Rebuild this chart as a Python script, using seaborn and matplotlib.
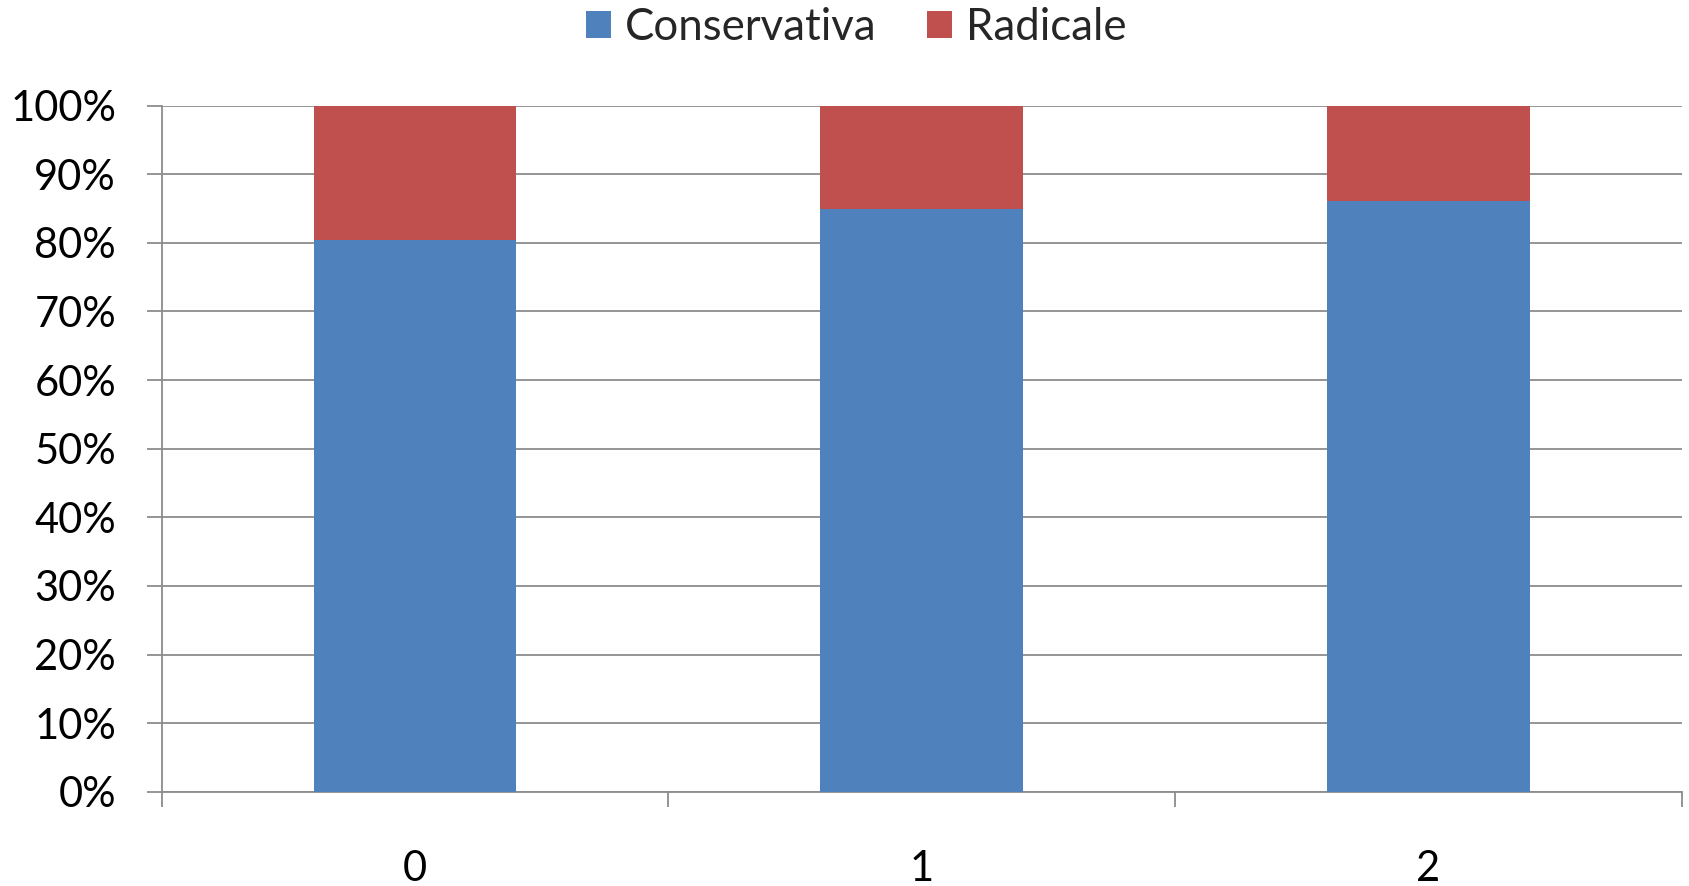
import matplotlib
matplotlib.use("Agg")
import matplotlib.pyplot as plt
import seaborn as sns
import pandas as pd
from matplotlib.patches import Patch

categories = ["0", "1", "2"]
conservativa = [80.4, 84.9, 86.1]
radicale = [19.6, 15.1, 13.9]
yticks = [0, 10, 20, 30, 40, 50, 60, 70, 80, 90, 100]

sns.set_theme(style="white")
plt.rcParams["font.family"] = ["Lato", "DejaVu Sans"]
plt.rcParams["xtick.bottom"] = True
plt.rcParams["ytick.left"] = True

blue = "#4F81BD"
red = "#C0504D"
grid = "#8C8C8C"

df = pd.DataFrame({
    "cat": categories,
    "cons": conservativa,
    "total": [c + r for c, r in zip(conservativa, radicale)],
})

fig = plt.figure(figsize=(16.89, 8.86), dpi=100)
ax = fig.add_axes([0.0957, 0.1064, 0.9000, 0.7744])

sns.barplot(data=df, x="cat", y="total", color=red, width=0.4,
            saturation=1, ax=ax, zorder=3, linewidth=0)
sns.barplot(data=df, x="cat", y="cons", color=blue, width=0.4,
            saturation=1, ax=ax, zorder=4, linewidth=0)

ax.set_xlim(-0.5, 2.5)
ax.set_ylim(0, 100)
ax.set_xlabel("")
ax.set_ylabel("")

# y axis: percentage ticks with gridlines
ax.set_yticks(yticks)
ax.set_yticklabels([f"{v}%" for v in yticks])
ax.yaxis.grid(True, color=grid, linewidth=1.3, zorder=0)
ax.set_axisbelow(True)
ax.tick_params(axis="y", left=True, length=10.8, width=1.3, color=grid,
               pad=22, labelsize=30, labelcolor="black")

# x axis: tick marks between categories, labels at centers
ax.set_xticks([-0.5, 0.5, 1.5, 2.5])
ax.set_xticklabels(["", "", "", ""])
ax.set_xticks([0, 1, 2], minor=True)
ax.set_xticklabels(categories, minor=True)
ax.tick_params(axis="x", which="major", bottom=True, length=10.8, width=1.3,
               color=grid, direction="out")
ax.tick_params(axis="x", which="minor", bottom=True, length=0, pad=42,
               labelsize=30, labelcolor="black")

for side in ["top", "right"]:
    ax.spines[side].set_visible(False)
for side in ["left", "bottom"]:
    ax.spines[side].set_color(grid)
    ax.spines[side].set_linewidth(1.3)

handles = [Patch(facecolor=blue, edgecolor="none", label="Conservativa"),
           Patch(facecolor=red, edgecolor="none", label="Radicale")]
fig.legend(handles=handles, loc="upper center", bbox_to_anchor=(0.507, 1.037),
           ncol=2, frameon=False, fontsize=31.5, handlelength=0.57,
           handleheight=0.57, handletextpad=0.32, columnspacing=1.15)

fig.savefig("out.png", dpi=100)
